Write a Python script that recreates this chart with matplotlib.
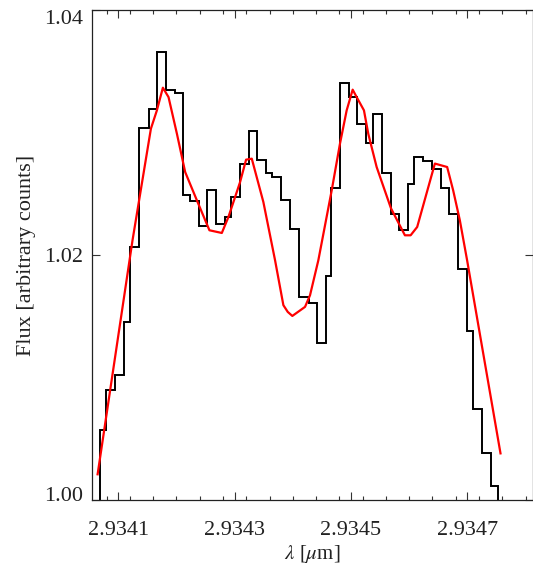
import matplotlib
matplotlib.use("Agg")
import matplotlib.pyplot as plt
import matplotlib.transforms as mtransforms
from matplotlib.ticker import MultipleLocator, FixedLocator

plt.rcParams['font.family'] = ['Liberation Serif', 'DejaVu Serif']
plt.rcParams['mathtext.fontset'] = 'stix'

# Observed spectrum (step histogram): bin edges and flux per bin
bin_edges = [2.934055, 2.934069, 2.934079, 2.934095, 2.934110, 2.934121, 2.934136,
             2.934152, 2.934166, 2.934182, 2.934198, 2.934212, 2.934224, 2.934238,
             2.934252, 2.934268, 2.934284, 2.934294, 2.934309, 2.934324, 2.934339,
             2.934354, 2.934365, 2.934380, 2.934395, 2.934411, 2.934427, 2.934441,
             2.934457, 2.934466, 2.934481, 2.934496, 2.934511, 2.934526, 2.934537,
             2.934553, 2.934568, 2.934583, 2.934598, 2.934609, 2.934624, 2.934639,
             2.934654, 2.934669, 2.934684, 2.934700, 2.934710, 2.934726, 2.934741,
             2.934752, 2.934766]
flux_obs = [0.9980, 1.00571, 1.00898, 1.01020, 1.01453, 1.02068, 1.03039, 1.03194,
            1.03660, 1.03353, 1.03328, 1.02490, 1.02443, 1.02237, 1.02536, 1.02259,
            1.02313, 1.02476, 1.02743, 1.03015, 1.02776, 1.02672, 1.02639, 1.02449,
            1.02218, 1.01655, 1.01606, 1.01279, 1.01831, 1.02549, 1.03407, 1.03292,
            1.03069, 1.02917, 1.03157, 1.02675, 1.02340, 1.02204, 1.02580, 1.02802,
            1.02770, 1.02708, 1.02553, 1.02340, 1.01891, 1.01382, 1.00743, 1.00386,
            1.00114, 0.9990]

# Model spectrum (red line)
wave_model = [2.9340645, 2.9341245, 2.9341561, 2.9341664, 2.9341767, 2.9341864,
              2.9342008, 2.9342150, 2.9342351, 2.9342567, 2.9342780, 2.9342894,
              2.9343094, 2.9343197, 2.9343295, 2.9343494, 2.9343695, 2.9343838,
              2.9343913, 2.9343992, 2.9344210, 2.9344296, 2.9344439, 2.9344669,
              2.9344811, 2.9344926, 2.9345029, 2.9345098, 2.9345223, 2.9345297,
              2.9345441, 2.9345687, 2.9345927, 2.9346025, 2.9346138, 2.9346442,
              2.9346653, 2.9346756, 2.9346871, 2.9346996, 2.9347570]
flux_model = [1.00210, 1.02122, 1.03034, 1.03184, 1.03369, 1.03292, 1.02993, 1.02680,
              1.02449, 1.02204, 1.02182, 1.02313, 1.02598, 1.02781, 1.02789, 1.02435,
              1.01959, 1.01592, 1.01537, 1.01504, 1.01578, 1.01673, 1.01959, 1.02531,
              1.02912, 1.03184, 1.03353, 1.03292, 1.03184, 1.02993, 1.02721, 1.02384,
              1.02163, 1.02163, 1.02231, 1.02749, 1.02721, 1.02531, 1.02286, 1.01959,
              1.00381]

x_ticks = [2.9341, 2.9343, 2.9345, 2.9347]
x_ticklabels = ['2.9341', '2.9343', '2.9345', '2.9347']
y_ticks = [1.00, 1.02, 1.04]
y_ticklabels = ['1.00', '1.02', '1.04']

fig = plt.figure(figsize=(5.33, 5.71), dpi=100)
ax = fig.add_axes([91.5 / 533, 1 - 500 / 571, (532.5 - 91.5) / 533, 490 / 571])

ax.stairs(flux_obs, bin_edges, baseline=None, color='black', lw=1.4)
ax.plot(wave_model, flux_model, color='#ff0000', lw=1.6)

ax.set_xlim(2.934054, 2.934812)
ax.set_ylim(1.0, 1.04004)

ax.xaxis.set_major_locator(FixedLocator(x_ticks))
ax.set_xticklabels(x_ticklabels)
ax.xaxis.set_minor_locator(MultipleLocator(0.00004))
ax.yaxis.set_major_locator(FixedLocator(y_ticks))
ax.set_yticklabels(y_ticklabels)

ax.tick_params(axis='both', which='both', direction='in', top=True, right=True,
               labelsize=16, width=0.8, color='#333333', labelcolor='#222222')
ax.tick_params(axis='x', which='major', length=6, pad=15)
ax.tick_params(axis='x', which='minor', length=3)
ax.tick_params(axis='y', which='major', length=6, pad=6)
for s in ax.spines.values():
    s.set_linewidth(0.9)
    s.set_color('#222222')

# IDL-style: bottom/top y labels nudged inside the axis range
y_offsets_px = [6, 0, -7]
for tick, dy in zip(ax.yaxis.get_major_ticks(), y_offsets_px):
    tick.label1.set_transform(tick.label1.get_transform() +
                              mtransforms.ScaledTranslation(0, dy / 100, fig.dpi_scale_trans))

ax.set_xlabel(r'$\lambda$ [$\mu$m]', fontsize=15, labelpad=2, color='#222222')
ax.set_ylabel('Flux [arbitrary counts]', fontsize=16, labelpad=6, color='#222222')

fig.savefig('out.png', dpi=100)
